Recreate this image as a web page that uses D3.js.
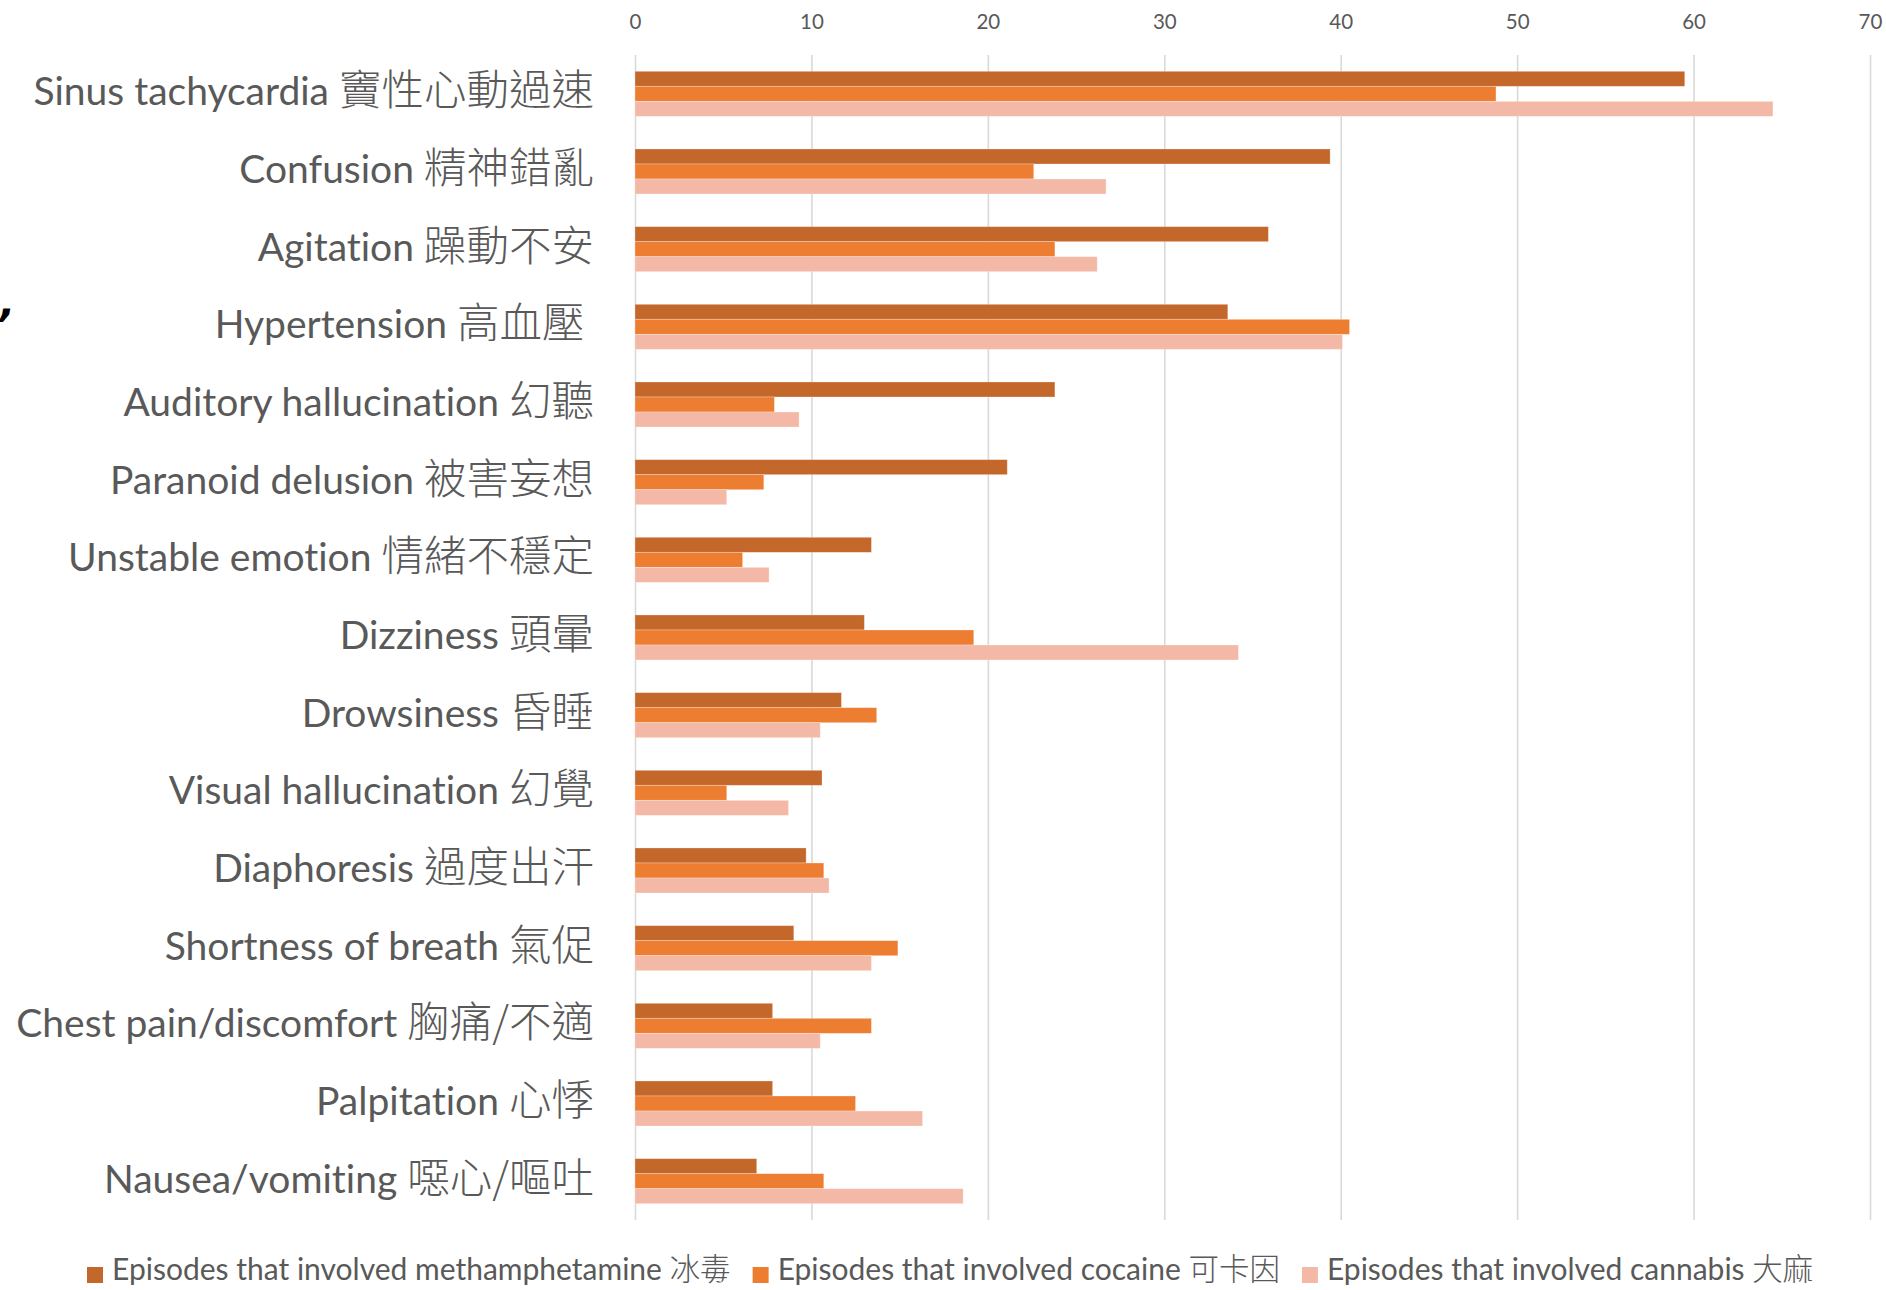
<!DOCTYPE html>
<html><head><meta charset="utf-8">
<script src="https://cdn.jsdelivr.net/npm/d3@7"></script>
<style>body{margin:0;background:#fff;overflow:hidden}svg{display:block}text{font-variant-ligatures:none;font-feature-settings:"liga" 0}</style>
</head><body>
<script>
const categories = [
  "Sinus tachycardia 竇性心動過速",
  "Confusion 精神錯亂",
  "Agitation 躁動不安",
  "Hypertension 高血壓 ",
  "Auditory hallucination 幻聽",
  "Paranoid delusion 被害妄想",
  "Unstable emotion 情緒不穩定",
  "Dizziness 頭暈",
  "Drowsiness 昏睡",
  "Visual hallucination 幻覺",
  "Diaphoresis 過度出汗",
  "Shortness of breath 氣促",
  "Chest pain/discomfort 胸痛/不適",
  "Palpitation 心悸",
  "Nausea/vomiting 噁心/嘔吐"
];
const meth     = [59.5, 39.4, 35.9, 33.6, 23.8, 21.1, 13.4, 13.0, 11.7, 10.6, 9.7, 9.0, 7.8, 7.8, 6.9];
const cocaine  = [48.8, 22.6, 23.8, 40.5, 7.9, 7.3, 6.1, 19.2, 13.7, 5.2, 10.7, 14.9, 13.4, 12.5, 10.7];
const cannabis = [64.5, 26.7, 26.2, 40.1, 9.3, 5.2, 7.6, 34.2, 10.5, 8.7, 11.0, 13.4, 10.5, 16.3, 18.6];
const ticks = [0, 10, 20, 30, 40, 50, 60, 70];
const seriesNames = [
  "Episodes that involved methamphetamine 冰毒",
  "Episodes that involved cocaine 可卡因",
  "Episodes that involved cannabis 大麻"
];
const colors = ["#C4672B", "#ED7D31", "#F4B9A6"];

const W = 1886, H = 1290;
const LATIN = "Lato, 'Open Sans', sans-serif";
const CJK = "'Noto Sans CJK TC', 'Noto Sans CJK SC', sans-serif";
const TXT = "#595959";

const svg = d3.select("body").append("svg").attr("width", W).attr("height", H);

const yTop = 55, yBottom = 1220;
const x = d3.scaleLinear().domain([0, 70]).range([635, 1870]);
const y = d3.scaleBand().domain(categories).range([yTop, yBottom]).paddingInner(0.42).paddingOuter(0.21);
const ySub = d3.scaleBand().domain([0, 1, 2]).range([0, y.bandwidth()]);

// gridlines + top tick labels
const axis = d3.axisTop(x).tickValues(ticks).tickSize(-(yBottom - yTop)).tickFormat(d3.format("d"));
const g = svg.append("g").attr("transform", `translate(0,${yTop})`).call(axis);
g.select(".domain").remove();
g.selectAll(".tick line").attr("stroke", "#d9d9d9").attr("stroke-width", 1.6);
g.selectAll(".tick text")
  .attr("y", 22 - yTop).attr("dy", "0.35em")
  .attr("fill", TXT).attr("font-family", LATIN).attr("font-size", 20.5);

// bars
const series = [meth, cocaine, cannabis];
series.forEach((vals, s) => {
  svg.append("g").selectAll("rect").data(vals).join("rect")
    .attr("x", x(0))
    .attr("y", (d, i) => y(categories[i]) + ySub(s))
    .attr("width", d => x(d) - x(0))
    .attr("height", ySub.bandwidth())
    .attr("fill", colors[s])
    .attr("stroke", "#fff").attr("stroke-opacity", 0.35).attr("stroke-width", 0.8);
});

// category labels
const cjkRe = /[\u3400-\u9fff]/;
const labels = svg.append("g").selectAll("text").data(categories).join("text")
  .attr("x", 594)
  .attr("y", d => y(d) + y.bandwidth() / 2 + 5)
  .attr("dy", "0.4em")
  .attr("text-anchor", "end")
  .attr("fill", TXT)
  .style("white-space", "pre");
labels.each(function(d) {
  const k = d.search(cjkRe);
  const t = d3.select(this);
  t.append("tspan").attr("font-family", LATIN).attr("font-size", 39).text(d.slice(0, k));
  t.append("tspan").attr("font-family", CJK).attr("font-size", 42.5).attr("font-weight", 300).text(d.slice(k));
});

// legend
const leg = svg.append("g");
let lx = 87;
seriesNames.forEach((name, i) => {
  const k = name.search(cjkRe);
  leg.append("rect").attr("x", lx).attr("y", 1267).attr("width", 16).attr("height", 16).attr("fill", colors[i]);
  const t = leg.append("text").attr("x", lx + 25).attr("y", 1274).attr("dy", "0.36em")
    .attr("fill", TXT).style("white-space", "pre");
  t.append("tspan").attr("font-family", LATIN).attr("font-size", 30).text(name.slice(0, k));
  t.append("tspan").attr("font-family", CJK).attr("font-size", 30.5).attr("font-weight", 300).text(name.slice(k));
  lx = lx + 25 + t.node().getComputedTextLength() + 22;
});

// stray cropped fragment at left edge
svg.append("text").attr("x", 0).attr("y", 316).attr("font-family", "'DejaVu Sans', sans-serif")
  .attr("font-size", 40).attr("font-weight", "bold").attr("font-style", "italic").attr("fill", "#000").text(",");
</script>
</body></html>
